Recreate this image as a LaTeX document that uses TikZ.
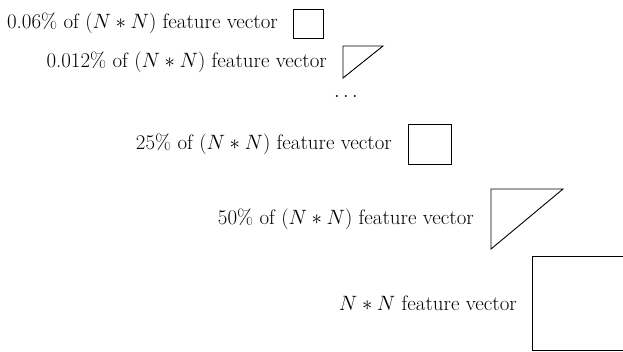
\documentclass[tikz,border=0pt]{standalone}
\usetikzlibrary{positioning}
\tikzset{
  fvbox/.style  = {draw, line width=0.9pt, inner sep=0pt, outer sep=0pt},
  fvtri/.style  = {inner sep=0pt, outer sep=0pt},
  fvlab/.style  = {font=\fontsize{20.9}{24}\selectfont, inner sep=0pt},
}
\begin{document}
\begin{tikzpicture}[x=1pt, y=-1pt]
  \useasboundingbox (0,0) rectangle (623,351);
  % shapes, smallest on top
  \node[fvbox, minimum width=30pt, minimum height=29pt] (b1) at (308, 23.5) {};
  \node[fvtri, minimum width=40pt, minimum height=32pt] (t1) at (363, 62) {};
  \node[fvbox, minimum width=43pt, minimum height=40pt] (b2) at (429.5, 144) {};
  \node[fvtri, minimum width=72pt, minimum height=60pt] (t2) at (527, 219) {};
  \node[fvbox, minimum width=94pt, minimum height=94pt] (b3) at (579, 303) {};
  \draw[line width=0.9pt, line join=miter] (t1.south west) -- (t1.north west) -- (t1.north east) -- cycle;
  \draw[line width=0.9pt, line join=miter] (t2.south west) -- (t2.north west) -- (t2.north east) -- cycle;
  \node[fvlab] (dots) at (346, 96) {$\dots$};
  % labels
  \node[fvlab, left=15pt of b1] (l1) {0.06\% of $(N * N)$ feature vector};
  \node[fvlab, left=16pt of t1] (l2) {0.012\% of $(N * N)$ feature vector};
  \node[fvlab, left=16pt of b2] (l3) {25\% of $(N * N)$ feature vector};
  \node[fvlab, left=17pt of t2] (l4) {50\% of $(N * N)$ feature vector};
  \node[fvlab, left=15pt of b3] (l5) {$N * N$ feature vector};
\end{tikzpicture}
\end{document}
